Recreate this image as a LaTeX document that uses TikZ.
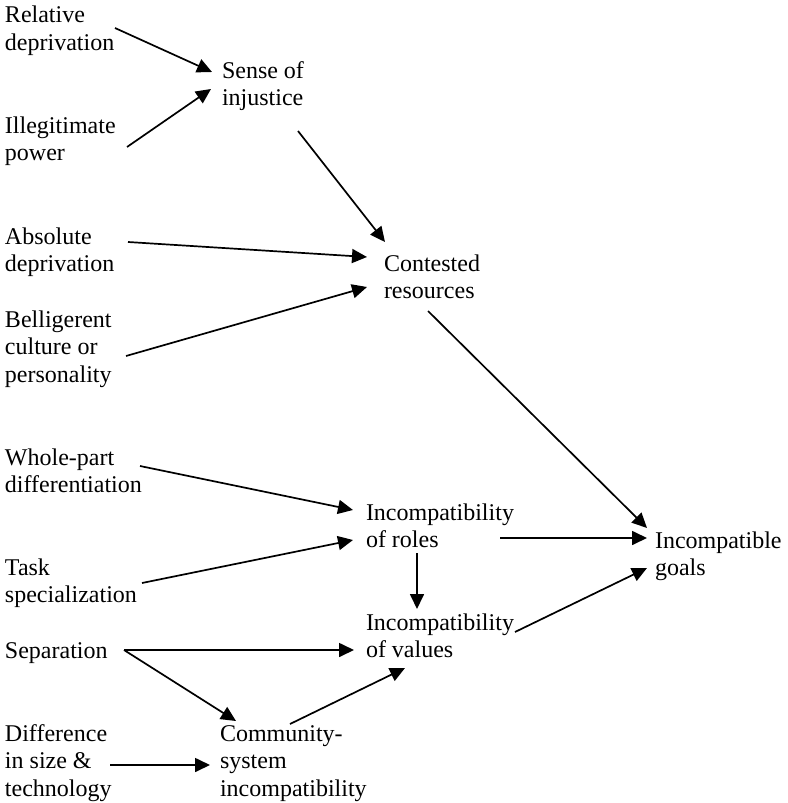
\documentclass[tikz,border=0pt]{standalone}
\usepackage{fontspec}
\setmainfont{Liberation Serif}
\usetikzlibrary{arrows.meta}
\newcommand\mlines[1]{\begin{tabular}[t]{@{}l@{}}#1\end{tabular}}
\tikzset{
  lbl/.style={anchor=base west, inner sep=0pt, outer sep=0pt, font=\fontsize{24}{27.5}\selectfont},
  arr/.style={line width=1.7pt, -{Triangle[length=15pt,width=14pt]}}
}
\begin{document}
\begin{tikzpicture}[x=1pt,y=-1pt]
\useasboundingbox (0,0) rectangle (787,803);
\node[lbl] (rel) at (5,23) {\mlines{Relative\\deprivation}};
\node[lbl] (sense) at (222,78) {\mlines{Sense of\\injustice}};
\node[lbl] (ill) at (5,133) {\mlines{Illegitimate\\power}};
\node[lbl] (abs) at (5,244) {\mlines{Absolute\\deprivation}};
\node[lbl] (cont) at (384,271) {\mlines{Contested\\resources}};
\node[lbl] (bel) at (5,327) {\mlines{Belligerent\\culture or\\personality}};
\node[lbl] (whole) at (5,465) {\mlines{Whole-part\\differentiation}};
\node[lbl] (roles) at (366,520) {\mlines{Incompatibility\\of roles}};
\node[lbl] (goals) at (655,548) {\mlines{Incompatible\\goals}};
\node[lbl] (task) at (5,575) {\mlines{Task\\specialization}};
\node[lbl] (values) at (366,630) {\mlines{Incompatibility\\of values}};
\node[lbl] (sep) at (5,658) {\mlines{Separation}};
\node[lbl] (diff) at (5,741) {\mlines{Difference\\in size \&\\technology}};
\node[lbl] (comm) at (220,741) {\mlines{Community-\\system\\incompatibility}};

\draw[arr] ([shift={(110,5)}]rel.base west) -- ([shift={(-10,-6)}]sense.base west);
\draw[arr] ([shift={(122,14)}]ill.base west) -- ([shift={(-11,11)}]sense.base west);
\draw[arr] ([shift={(76,53)}]sense.base west) -- ([shift={(1,-29)}]cont.base west);
\draw[arr] ([shift={(123,-2)}]abs.base west) -- ([shift={(-17,-14)}]cont.base west);
\draw[arr] ([shift={(121,29)}]bel.base west) -- ([shift={(-17,16)}]cont.base west);
\draw[arr] ([shift={(44,40)}]cont.base west) -- ([shift={(-8,-20)}]goals.base west);
\draw[arr] ([shift={(135,1)}]whole.base west) -- ([shift={(-13,-10)}]roles.base west);
\draw[arr] ([shift={(137,8)}]task.base west) -- ([shift={(-13,20)}]roles.base west);
\draw[arr] ([shift={(134,18)}]roles.base west) -- ([shift={(-8,-10)}]goals.base west);
\draw[arr] ([shift={(51,33)}]roles.base west) -- ([shift={(51,-21)}]values.base west);
\draw[arr] ([shift={(149,2)}]values.base west) -- ([shift={(-8,20)}]goals.base west);
\draw[arr] ([shift={(119,-8)}]sep.base west) -- ([shift={(-12,-8)}]values.base west |- sep.base west);
\draw[arr] ([shift={(119,-8)}]sep.base west) -- ([shift={(16,-20)}]comm.base west);
\draw[arr] ([shift={(70,-17)}]comm.base west) -- ([shift={(39,38)}]values.base west);
\draw[arr] ([shift={(105,24)}]diff.base west) -- ([shift={(-10,24)}]comm.base west);
\end{tikzpicture}
\end{document}
